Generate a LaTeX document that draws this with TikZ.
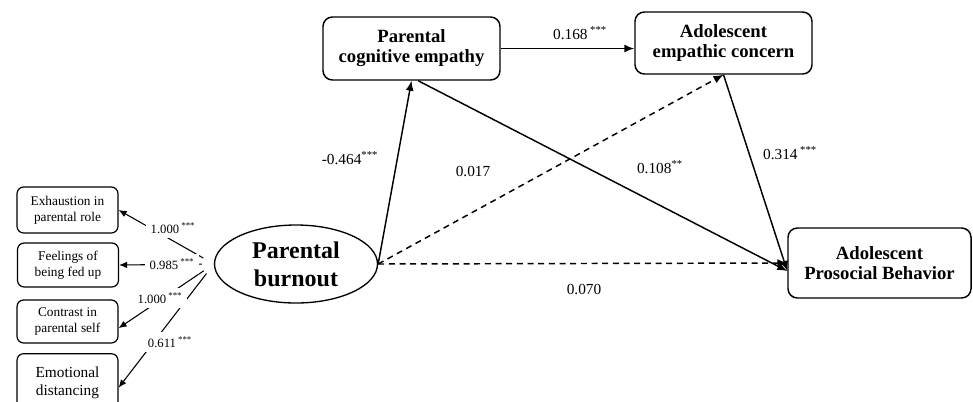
\documentclass[tikz,border=0pt]{standalone}
\usepackage{fontspec}
\setmainfont{Liberation Serif}
\usetikzlibrary{shapes.geometric,arrows.meta}

\begin{document}
\begin{tikzpicture}[x=0.75pt,y=0.75pt,yscale=-1,xscale=1,
  construct/.style={draw,line width=1.1pt,rounded corners=7pt,align=center,inner sep=0pt,font=\fontsize{14}{15}\selectfont\bfseries},
  indicator/.style={draw,line width=0.9pt,rounded corners=5pt,align=center,inner sep=0pt,minimum width=75.75pt,font=\fontsize{10}{12}\selectfont},
  coef/.style={inner sep=1pt,font=\fontsize{11.5}{13}\selectfont},
  loading/.style={fill=white,inner sep=3.5pt,font=\fontsize{9.5}{11}\selectfont},
  effect/.style={line width=1.1pt,-{Latex[length=7.5pt,width=6pt]}},
  weakeffect/.style={effect,dash pattern=on 4.5pt off 3.5pt},
  loadarrow/.style={line width=0.8pt,shorten <=9pt,-{Latex[length=6pt,width=5pt]}}]
\useasboundingbox (0,0) rectangle (973,401);

% Latent variable
\node [draw,ellipse,line width=1pt,inner sep=0pt,minimum width=122.25pt,minimum height=58.5pt,align=center,font=\fontsize{18}{21}\selectfont\bfseries] (burnout) at (296,264) {Parental\\burnout};

% Mediators and outcome
\node [construct,minimum width=132.75pt,minimum height=47.25pt] (pce) at (411.5,48.5) {Parental\\cognitive empathy};
\node [construct,minimum width=132.75pt,minimum height=46.5pt] (aec) at (723.5,43) {Adolescent\\empathic concern};
\node [construct,minimum width=137.25pt,minimum height=52.5pt] (apb) at (879.5,263) {Adolescent\\Prosocial Behavior};

% Indicators
\node [indicator,minimum height=34.5pt] (exh) at (67.5,210) {Exhaustion in\\parental role};
\node [indicator,minimum height=33pt] (feel) at (68,265) {Feelings of\\being fed up};
\node [indicator,minimum height=32.25pt] (con) at (67.5,321.5) {Contrast in\\parental self};
\node [indicator,minimum height=44pt,font=\fontsize{11.5}{13.5}\selectfont] (emo) at (67.5,383) {Emotional\\distancing};

% Loadings
\draw [loadarrow] (burnout.west) -- (exh.east);
\draw [loadarrow] (burnout.west) -- (feel.east);
\draw [loadarrow] (burnout.west) -- ([yshift=5pt]con.east);
\draw [loadarrow] (burnout.west) -- ([yshift=3.5pt]emo.east);

\node [loading] (l1) at (173,228) {1.000\,\textsuperscript{***}};
\node [loading] (l2) at (172,264) {0.985\,\textsuperscript{***}};
\node [loading] (l3) at (160,298) {1.000\,\textsuperscript{***}};
\node [loading] (l4) at (170,342) {0.611\,\textsuperscript{***}};

% Structural paths
\draw [effect] (burnout.east) -- (pce.south);
\draw [effect] (pce.east) -- (pce.east -| aec.west);
\draw [effect] ([xshift=5pt]pce.south) -- ([yshift=6pt]apb.west);
\draw [weakeffect] (burnout.east) -- (aec.south);
\draw [effect] (aec.south) -- ([yshift=6pt]apb.west);
\draw [weakeffect] (burnout.east) -- (apb.west);

% Text Node
\node [coef] (c1) at (580,33) {0.168\,\textsuperscript{***}};
\node [coef] (c2) at (350,158) {-0.464\textsuperscript{***}};
\node [coef] (c3) at (473,172) {0.017};
\node [coef] (c4) at (660,167) {0.108\textsuperscript{**}};
\node [coef] (c5) at (790,153) {0.314\,\textsuperscript{***}};
\node [coef] (c6) at (584,289) {0.070};

\end{tikzpicture}
\end{document}
